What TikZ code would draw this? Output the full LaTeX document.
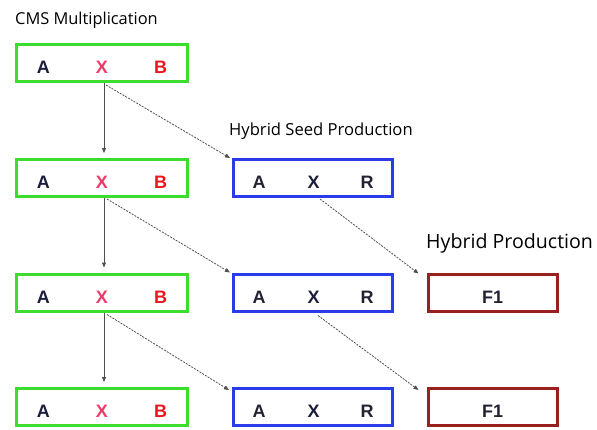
\documentclass[tikz,border=0pt]{standalone}
\usepackage{fontspec}
\usetikzlibrary{arrows.meta}
\newfontfamily\labelfont{Open Sans}
\newfontfamily\letterfont{Liberation Sans}
\definecolor{cmsgreen}{HTML}{3DDC2E}
\definecolor{seedblue}{HTML}{2A3BE8}
\definecolor{hybred}{HTML}{9A1F1F}
\definecolor{letterA}{HTML}{1C1C3C}
\definecolor{letterX}{HTML}{EE3A6A}
\definecolor{letterB}{HTML}{EE1420}
\definecolor{letterD}{HTML}{222233}
\definecolor{arrowgray}{HTML}{505050}
\newcommand{\cmsletters}{{\color{letterA}A}\hspace{46pt}{\color{letterX}X}\hspace{46pt}{\color{letterB}B}}
\newcommand{\seedletters}{{\color{letterD}A}\hspace{42pt}{\color{letterA}X}\hspace{41pt}{\color{letterD}R}}
\begin{document}
\begin{tikzpicture}[x = 1pt, y = -1pt,
  crossbox/.style = {draw, line width = 3pt, inner sep = 0pt, minimum height = 37pt,
    text height = 21pt, text depth = 0pt,
    font = \letterfont\bfseries\fontsize{18}{20}\selectfont},
  cmsbox/.style = {crossbox, cmsgreen, minimum width = 171pt},
  seedbox/.style = {crossbox, seedblue, minimum width = 159pt},
  hybbox/.style = {crossbox, hybred, minimum width = 129pt},
  down/.style = {-{Triangle[length = 5pt, width = 4pt]}, arrowgray, line width = 0.8pt, shorten > = 5pt},
  cross/.style = {-{Triangle[length = 5pt, width = 4pt]}, arrowgray, line width = 0.8pt,
    dash pattern = on 2pt off 1.2pt},
  stage/.style = {anchor = base west, inner sep = 0pt, text = black}]
\useasboundingbox (0, 0) rectangle (597, 429);

% stage titles
\node[stage, font = \labelfont\fontsize{16.4}{18}\selectfont] (cmstitle) at (15, 24.5) {CMS Multiplication};
\node[stage, font = \labelfont\fontsize{16.6}{18}\selectfont] (seedtitle) at (229, 135) {Hybrid Seed Production};
\node[stage, font = \labelfont\fontsize{19.6}{22}\selectfont] (hybtitle) at (426, 248) {Hybrid Production};

% boxes
\node[cmsbox] (cms1) at (102, 63) {\cmsletters};
\node[cmsbox] (cms2) at (102, 178) {\cmsletters};
\node[cmsbox] (cms3) at (102, 292.5) {\cmsletters};
\node[cmsbox] (cms4) at (102, 407) {\cmsletters};

\node[seedbox] (seed2) at (313, 178) {\seedletters};
\node[seedbox] (seed3) at (313, 292.5) {\seedletters};
\node[seedbox] (seed4) at (313, 407) {\seedletters};

\node[hybbox] (hyb3) at (492.5, 292.5) {\color{letterD}F1};
\node[hybbox] (hyb4) at (492.5, 407) {\color{letterD}F1};

% arrows
\draw[down] ([xshift = 2pt]cms1.south) -- ([xshift = 2pt]cms2.north);
\draw[down] ([xshift = 2pt]cms2.south) -- ([xshift = 2pt]cms3.north);
\draw[down] ([xshift = 2pt]cms3.south) -- ([xshift = 2pt]cms4.north);

\draw[cross] ([xshift = 4pt, yshift = -2pt]cms1.south) -- ([xshift = -2pt]seed2.north west);
\draw[cross] ([xshift = 5pt, yshift = -1pt]cms2.south) -- ([xshift = -2pt]seed3.north west);
\draw[cross] ([xshift = 5pt, yshift = -2pt]cms3.south) -- ([xshift = -3pt, yshift = -3pt]seed4.north west);

\draw[cross] ([xshift = 7pt, yshift = -1pt]seed2.south) -- ([xshift = -8pt, yshift = -1pt]hyb3.north west);
\draw[cross] ([xshift = 5pt, yshift = -3pt]seed3.south) -- ([xshift = -8pt, yshift = -3pt]hyb4.north west);
\end{tikzpicture}
\end{document}
